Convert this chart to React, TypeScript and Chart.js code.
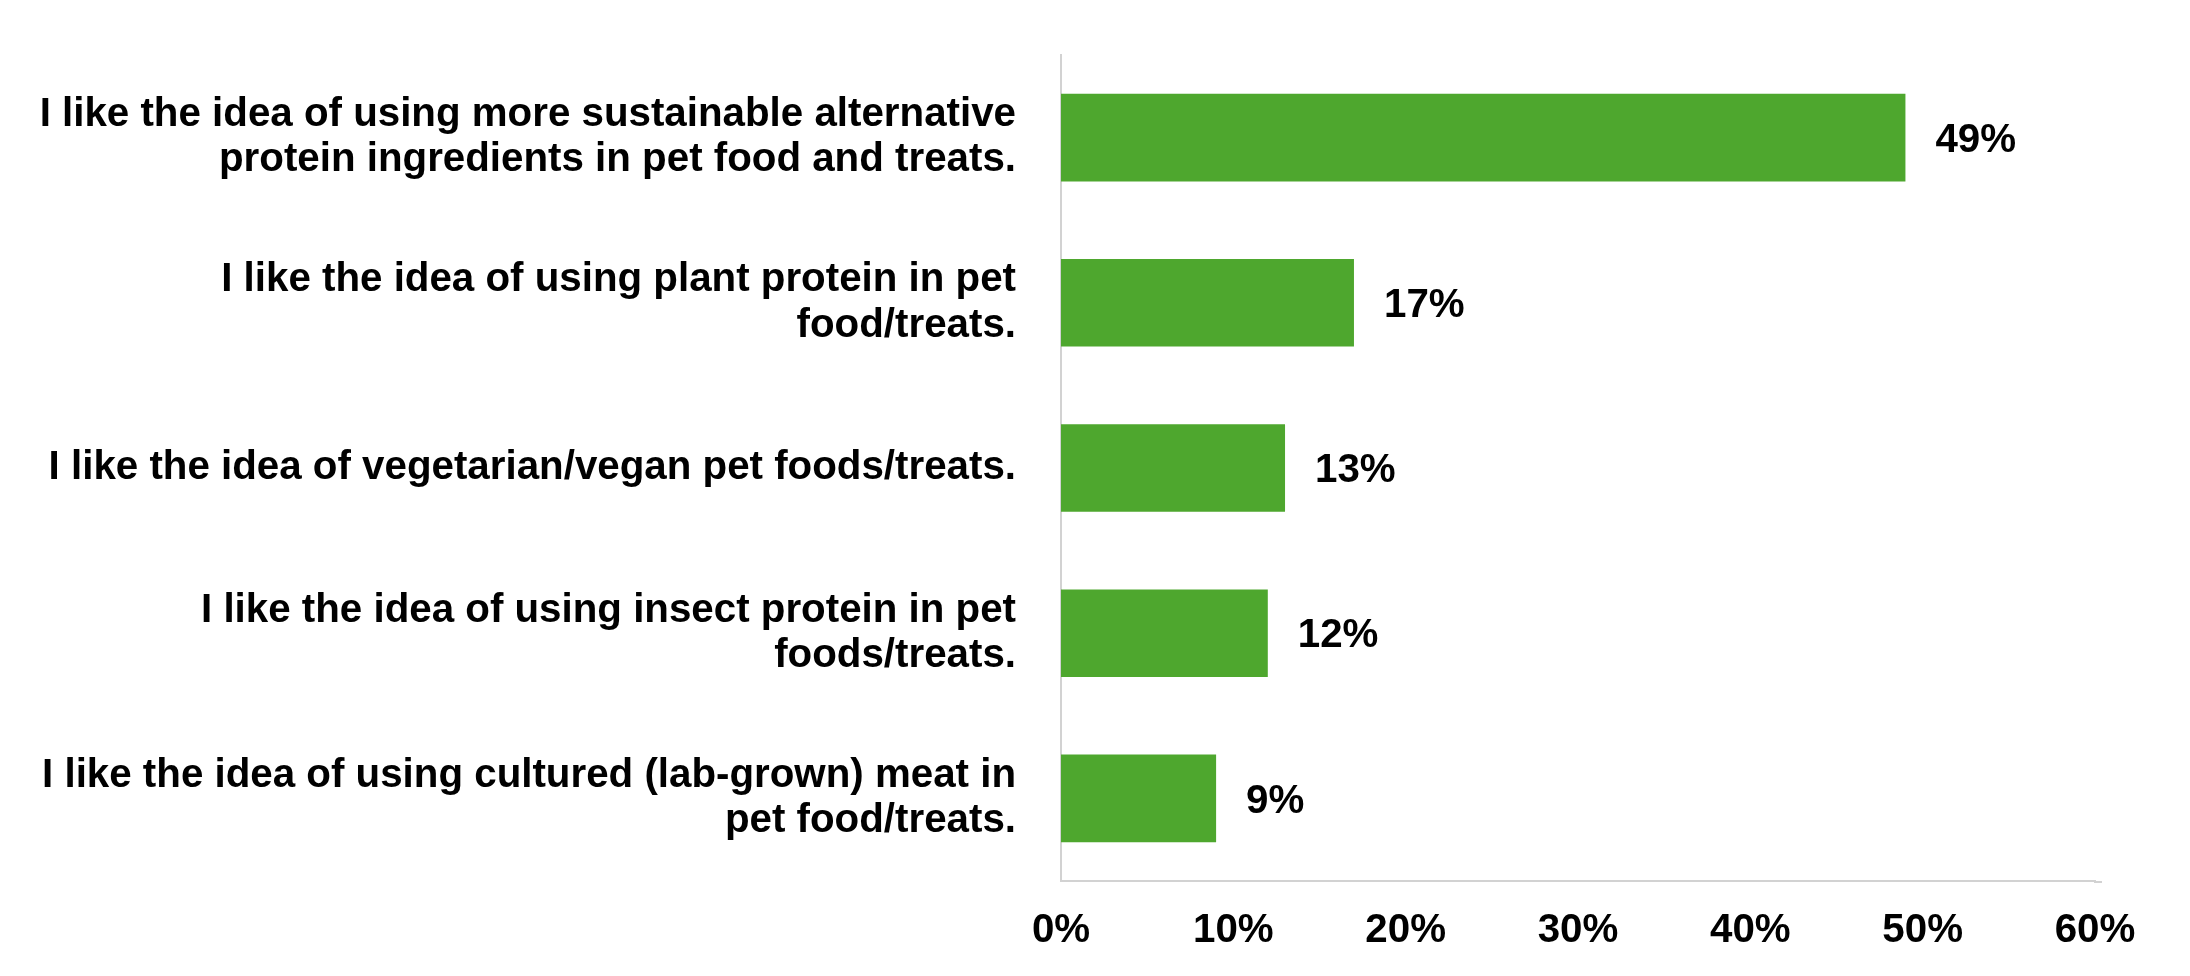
import React, { useEffect, useRef } from "react";
import { Chart, registerables } from "chart.js";

Chart.register(...registerables);

const categories: (string | string[])[] = [
  ["I like the idea of using more sustainable alternative", "protein ingredients in pet food and treats."],
  ["I like the idea of using plant protein in pet", "food/treats."],
  "I like the idea of vegetarian/vegan pet foods/treats.",
  ["I like the idea of using insect protein in pet", "foods/treats."],
  ["I like the idea of using cultured (lab-grown) meat in", "pet food/treats."],
];
const values = [49, 17, 13, 12, 9];
const valueLabels = ["49%", "17%", "13%", "12%", "9%"];
const xTicks = [0, 10, 20, 30, 40, 50, 60];

const FONT = "'Liberation Sans', Arial, Helvetica, sans-serif";
const AXIS_COLOR = "#d2d2d2";

const valueLabelPlugin = {
  id: "valueLabels",
  afterDatasetsDraw(chart: any) {
    const ctx = chart.ctx;
    const meta = chart.getDatasetMeta(0);
    ctx.save();
    ctx.font = `bold 40.3px ${FONT}`;
    ctx.fillStyle = "#000000";
    ctx.textAlign = "left";
    ctx.textBaseline = "middle";
    meta.data.forEach((bar: any, i: number) => {
      ctx.fillText(valueLabels[i], bar.x + 30, bar.y + 3);
    });
    ctx.restore();
  },
};

const axisExtendPlugin = {
  id: "axisExtend",
  afterDraw(chart: any) {
    const { ctx, chartArea } = chart;
    ctx.save();
    ctx.strokeStyle = AXIS_COLOR;
    ctx.lineWidth = 2;
    ctx.beginPath();
    ctx.moveTo(chartArea.right - 1, chartArea.bottom + 1);
    ctx.lineTo(chartArea.right + 7, chartArea.bottom + 1);
    ctx.stroke();
    ctx.restore();
  },
};

export default function App() {
  const ref = useRef<HTMLCanvasElement | null>(null);
  useEffect(() => {
    document.body.style.margin = "0";
    const chart = new Chart(ref.current as HTMLCanvasElement, {
      type: "bar",
      data: {
        labels: categories,
        datasets: [
          {
            data: values,
            backgroundColor: "#4ea72e",
            categoryPercentage: 1,
            barPercentage: 0.53,
          },
        ],
      },
      options: {
        indexAxis: "y",
        animation: false,
        responsive: false,
        maintainAspectRatio: false,
        layout: { padding: { top: 55, right: 95, left: 0, bottom: 0 } },
        plugins: { legend: { display: false }, tooltip: { enabled: false } },
        scales: {
          x: {
            min: 0,
            max: 60,
            afterBuildTicks: (scale: any) => {
              scale.ticks = xTicks.map((v) => ({ value: v }));
            },
            afterFit: (scale: any) => {
              scale.height = 95;
              scale.paddingLeft = 0;
              scale.paddingRight = 0;
            },
            grid: { display: false, drawTicks: false },
            border: { display: true, color: AXIS_COLOR, width: 2 },
            ticks: {
              padding: 26,
              color: "#000000",
              font: { family: FONT, size: 40.3, weight: "bold" },
              callback: (v: any) => `${v}%`,
              maxRotation: 0,
              autoSkip: false,
            },
          },
          y: {
            afterFit: (scale: any) => {
              scale.width = 1061;
              scale.paddingTop = 0;
              scale.paddingBottom = 0;
            },
            grid: { display: false, drawTicks: false },
            border: { display: true, color: AXIS_COLOR, width: 2 },
            ticks: {
              padding: 45,
              color: "#000000",
              font: { family: FONT, size: 40.3, weight: "bold", lineHeight: 1.13 },
              autoSkip: false,
            },
          },
        },
      },
      plugins: [valueLabelPlugin, axisExtendPlugin],
    });
    return () => chart.destroy();
  }, []);
  return (
    <div style={{ position: "absolute", left: 0, top: 0, width: 2190, height: 976, background: "#ffffff" }}>
      <canvas ref={ref} width={2190} height={976} style={{ width: 2190, height: 976 }} />
    </div>
  );
}
